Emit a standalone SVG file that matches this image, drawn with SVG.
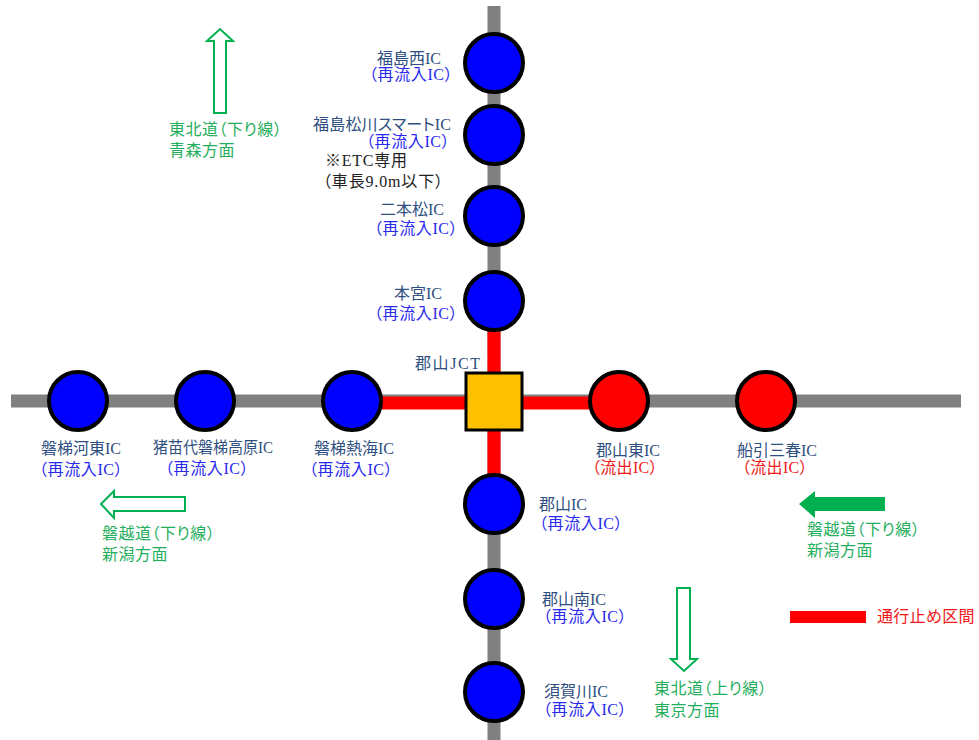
<svg xmlns="http://www.w3.org/2000/svg" width="979" height="740" viewBox="0 0 979 740">
<style>
text{font-family:"Liberation Serif","Noto Sans CJK JP",sans-serif;font-size:16px;font-feature-settings:"palt"}
.n{fill:#2f4f80}.b{fill:#2a2aee;letter-spacing:.6px}.r{fill:#f01818;letter-spacing:.3px}.g{fill:#1fae5c;letter-spacing:.5px}.k{fill:#222}
.ln{fill:none;stroke-width:13}
.gy{stroke:#808080}.rd{stroke:#ff0000}
circle{stroke:#000;stroke-width:4}
.bl{fill:#0000ff}.re{fill:#ff0000}
.ar{fill:#fff;stroke:#00b050;stroke-width:2}
</style>
<rect width="979" height="740" fill="#fff"/>
<g id="connectors">
<path class="ln gy" d="M494 6V740"/>
<path class="ln gy" d="M11 401H961"/>
<path class="ln rd" d="M494 300V500"/>
<path class="ln rd" d="M352 403H620"/>
</g>
<g id="n-fukushimanishi"><circle class="bl" cx="494" cy="63" r="29"/><text class="n" x="377" y="64">福島西IC</text><text class="b" x="369" y="80">（再流入IC）</text></g>
<g id="n-matsukawa"><circle class="bl" cx="494" cy="135" r="29"/><text class="n" x="313" y="130" textLength="138">福島松川スマートIC</text><text class="b" x="366" y="147">（再流入IC）</text><text class="k" x="325" y="166" textLength="82">※ETC専用</text><text class="k" x="323" y="187" textLength="120">（車長9.0m以下）</text></g>
<g id="n-nihonmatsu"><circle class="bl" cx="494" cy="216" r="29"/><text class="n" x="380" y="215">二本松IC</text><text class="b" x="374" y="234">（再流入IC）</text></g>
<g id="n-motomiya"><circle class="bl" cx="494" cy="301" r="29"/><text class="n" x="394" y="299">本宮IC</text><text class="b" x="374" y="319">（再流入IC）</text></g>
<g id="n-koriyamajct"><rect x="466" y="373" width="56" height="57" fill="#ffc000" stroke="#000" stroke-width="3"/><text class="n" x="415" y="369" textLength="65">郡山JCT</text></g>
<g id="n-iwahashikawahigashi"><circle class="bl" cx="78" cy="401" r="29"/><text class="n" x="41" y="454">磐梯河東IC</text><text class="b" x="39" y="475">（再流入IC）</text></g>
<g id="n-inawashiro"><circle class="bl" cx="205" cy="401" r="29"/><text class="n" x="153" y="453" textLength="120" lengthAdjust="spacingAndGlyphs">猪苗代磐梯高原IC</text><text class="b" x="165" y="474">（再流入IC）</text></g>
<g id="n-atami"><circle class="bl" cx="352" cy="401" r="29"/><text class="n" x="314" y="454">磐梯熱海IC</text><text class="b" x="309" y="475">（再流入IC）</text></g>
<g id="n-koriyamahigashi"><circle class="re" cx="619" cy="401" r="29"/><text class="n" x="596" y="456">郡山東IC</text><text class="r" x="592" y="473">（流出IC）</text></g>
<g id="n-funehiki"><circle class="re" cx="766" cy="401" r="29"/><text class="n" x="737" y="456">船引三春IC</text><text class="r" x="742" y="473">（流出IC）</text></g>
<g id="n-koriyama"><circle class="bl" cx="494" cy="504" r="29"/><text class="n" x="539" y="510">郡山IC</text><text class="b" x="539" y="529">（再流入IC）</text></g>
<g id="n-koriyamaminami"><circle class="bl" cx="494" cy="599" r="29"/><text class="n" x="542" y="605">郡山南IC</text><text class="b" x="543" y="622">（再流入IC）</text></g>
<g id="n-sukagawa"><circle class="bl" cx="494" cy="692" r="29"/><text class="n" x="544" y="697">須賀川IC</text><text class="b" x="543" y="715">（再流入IC）</text></g>
<g id="legend-north"><path class="ar" d="M214 113V41H207L220 29L233 41H226V113Z"/><text class="g" x="169" y="135">東北道（下り線）</text><text class="g" x="169" y="156">青森方面</text></g>
<g id="legend-west"><path class="ar" d="M185 497V511H114V518L101 504L114 491V497Z"/><text class="g" x="102" y="539">磐越道（下り線）</text><text class="g" x="102" y="560">新潟方面</text></g>
<g id="legend-east"><path d="M885 497V511H815V518L799 504L815 491V497Z" fill="#00b050"/><text class="g" x="807" y="535">磐越道（下り線）</text><text class="g" x="807" y="556">新潟方面</text></g>
<g id="legend-south"><path class="ar" d="M677 588H690V659H697L684 671L671 659H677Z"/><text class="g" x="654" y="694">東北道（上り線）</text><text class="g" x="654" y="716">東京方面</text></g>
<g id="legend-closed"><rect x="790" y="611" width="76" height="12" fill="#ff0000"/><text class="r" x="877" y="622">通行止め区間</text></g>
</svg>
